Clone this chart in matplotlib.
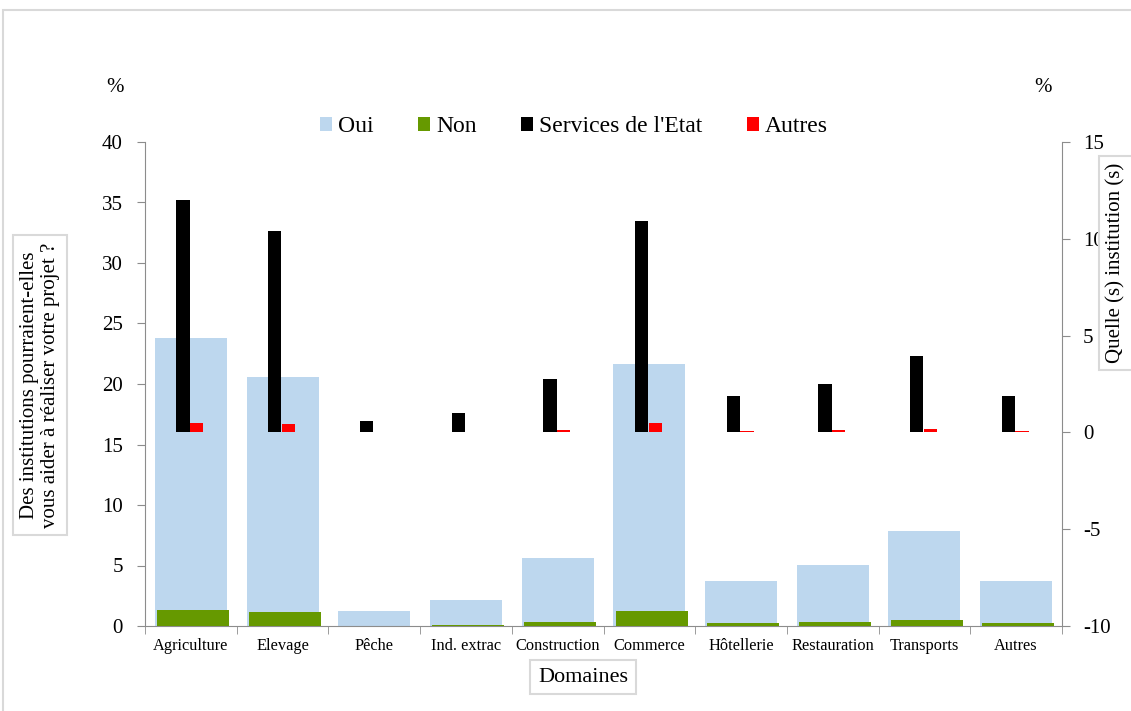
import numpy as np
import matplotlib
matplotlib.use('Agg')
import matplotlib.pyplot as plt
from matplotlib.patches import Rectangle

plt.rcParams['font.family'] = ['Liberation Serif', 'DejaVu Serif']

domaines = ['Agriculture', 'Elevage', 'Pêche', 'Ind. extrac', 'Construction',
            'Commerce', 'Hôtellerie', 'Restauration', 'Transports', 'Autres']

# primary axis (%)
oui = [23.8, 20.6, 1.26, 2.12, 5.6, 21.65, 3.74, 5.07, 7.85, 3.69]
non = [1.32, 1.16, 0.0, 0.1, 0.35, 1.24, 0.25, 0.3, 0.5, 0.25]

# secondary axis (%)
services_etat = [12.0, 10.4, 0.58, 1.02, 2.77, 10.9, 1.86, 2.5, 3.93, 1.86]
autres_inst = [0.49, 0.43, 0.03, 0.03, 0.1, 0.46, 0.05, 0.1, 0.15, 0.05]

c_oui = '#BDD7EE'
c_non = '#669900'
c_etat = '#000000'
c_autres = '#FF0000'
grey = '#8c8c8c'

x = np.arange(len(domaines))

fig = plt.figure(figsize=(11.31, 7.11), dpi=100)
ax = fig.add_axes([145/1131, 1 - 626/711, (1062 - 145)/1131, (626 - 142)/711])
ax2 = ax.twinx()

ax.bar(x, oui, width=0.785, color=c_oui, label='Oui', zorder=2)
ax.bar(x + 0.025, non, width=0.785, color=c_non, label='Non', zorder=3)

ax2.bar(x - 0.085, services_etat, width=0.145, color=c_etat, label="Services de l'Etat")
ax2.bar(x + 0.065, autres_inst, width=0.145, color=c_autres, label='Autres')

ax.set_xlim(-0.5, len(domaines) - 0.5)
ax.set_ylim(0, 40)
ax.set_yticks(np.arange(0, 41, 5))
ax2.set_ylim(-10, 15)
ax2.set_yticks(np.arange(-10, 16, 5))
ax2.set_yticklabels([str(v) for v in range(-10, 16, 5)])

ax.set_xticks(x)
ax.set_xticklabels(domaines, fontsize=11.8)
ax.set_xticks(np.arange(-0.5, len(domaines), 1), minor=True)
ax.tick_params(axis='x', which='major', length=0, pad=9)
ax.tick_params(axis='x', which='minor', length=6, color=grey, direction='out')
ax.tick_params(axis='y', labelsize=15, length=6, color=grey, pad=10)
ax2.tick_params(axis='y', labelsize=15, length=6, color=grey, pad=9)

for a in (ax, ax2):
    a.spines['top'].set_visible(False)
    for s in ('left', 'right', 'bottom'):
        a.spines[s].set_color(grey)
ax.spines['right'].set_visible(False)
ax2.spines['left'].set_visible(False)
ax2.spines['bottom'].set_visible(False)

# legend across the top
h1, l1 = ax.get_legend_handles_labels()
h2, l2 = ax2.get_legend_handles_labels()
fig.legend(h1 + h2, l1 + l2, loc='center', bbox_to_anchor=(574/1131, 1 - 127/711),
           ncol=4, frameon=False, fontsize=17, handlelength=0.5, handleheight=0.5,
           handletextpad=0.25, columnspacing=1.9)

box = dict(boxstyle='square,pad=0.35', facecolor='white', edgecolor='#d9d9d9', linewidth=1.5)
fig.text(40/1131, 1 - 385/711, 'Des institutions pourraient-elles\nvous aider à réaliser votre projet ?',
         rotation=90, ha='center', va='center', fontsize=15, linespacing=1.15, bbox=box)
fig.text(1116/1131, 1 - 263/711, 'Quelle (s) institution (s)', rotation=90,
         ha='center', va='center', fontsize=15, bbox=box)
fig.text(583/1131, 1 - 677/711, 'Domaines', ha='center', va='center', fontsize=16, bbox=box)

fig.text(115/1131, 1 - 88/711, '%', ha='center', va='center', fontsize=15)
fig.text(1043/1131, 1 - 88/711, '%', ha='center', va='center', fontsize=15)

# light frame around the chart area
fig.patches.append(Rectangle((3/1131, -0.1), 1.2, 1 - 10/711 + 0.1, transform=fig.transFigure,
                             fill=False, edgecolor='#d9d9d9', linewidth=1.5))

fig.savefig('out.png', dpi=100)
